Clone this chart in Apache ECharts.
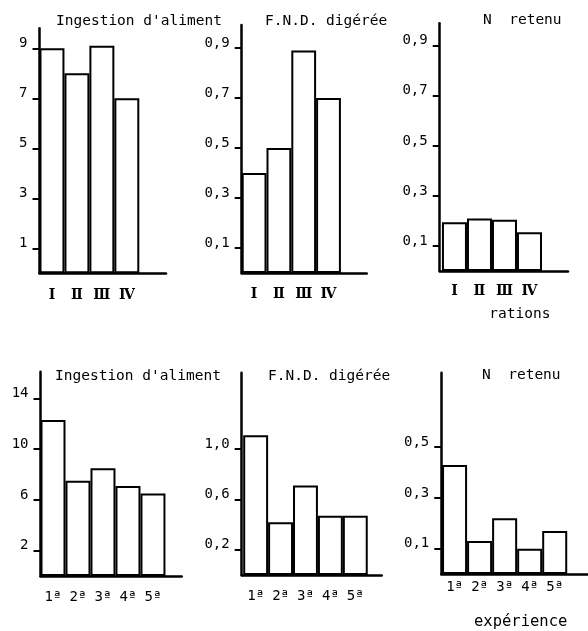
<!DOCTYPE html>
<html>
<head>
<meta charset="utf-8">
<script src="https://cdn.jsdelivr.net/npm/echarts@6/dist/echarts.min.js"></script>
<style>
  html, body { margin: 0; padding: 0; background: #fff; }
  #chart { width: 588px; height: 631px; }
</style>
</head>
<body>
<div id="chart"></div>
<script>
// data
const rations = ['Ⅰ', 'Ⅱ', 'Ⅲ', 'Ⅳ']
const experiences = ['1ª', '2ª', '3ª', '4ª', '5ª']

const ingestionRations = [9.0, 8.0, 9.1, 7.0]
const fndRations = [0.40, 0.50, 0.89, 0.70]
const nRations = [0.195, 0.21, 0.205, 0.155]

const ingestionExp = [12.3, 7.5, 8.5, 7.1, 6.5]
const fndExp = [1.11, 0.42, 0.71, 0.47, 0.47]
const nExp = [0.43, 0.13, 0.22, 0.10, 0.17]

const ticksIngestionRations = [1, 3, 5, 7, 9]
const ticksFndRations = [0.1, 0.3, 0.5, 0.7, 0.9]
const ticksNRations = [0.1, 0.3, 0.5, 0.7, 0.9]
const ticksIngestionExp = [2, 6, 10, 14]
const ticksFndExp = [0.2, 0.6, 1.0]
const ticksNExp = [0.1, 0.3, 0.5]

const titleIngestion = "Ingestion d'aliment"
const titleFnd = 'F.N.D. digérée'
const titleN = 'N  retenu'

const MONO = '"DejaVu Sans Mono", monospace'

// one panel = grid + axes + series
const panels = [
	{ cats: rations, values: ingestionRations, ticks: ticksIngestionRations, dec: 0, title: titleIngestion,
		grid: { left: 39.5, top: 28.3, width: 126.5, height: 245 }, xMin: -0.5, xMax: 4.57, yMax: 9.8,
		titleLeft: 56, titleTop: 14, labelMargin: 15, roman: true },
	{ cats: rations, values: fndRations, ticks: ticksFndRations, dec: 1, title: titleFnd,
		grid: { left: 241.7, top: 25, width: 125, height: 248 }, xMin: -0.5, xMax: 4.54, yMax: 0.992,
		titleLeft: 265, titleTop: 14, labelMargin: 14, roman: true },
	{ cats: rations, values: nRations, ticks: ticksNRations, dec: 1, title: titleN,
		grid: { left: 439.7, top: 23.3, width: 128.3, height: 247.7 }, xMin: -0.59, xMax: 4.54, yMax: 0.99,
		titleLeft: 483, titleTop: 13, labelMargin: 13, roman: true,
		xName: 'rations', xNameGap: 36, xNameShift: [0, 0, 0, 32], xNameSize: 14.5 },
	{ cats: experiences, values: ingestionExp, ticks: ticksIngestionExp, dec: 0, title: titleIngestion,
		grid: { left: 40.5, top: 371.7, width: 141.2, height: 204.3 }, xMin: -0.5, xMax: 5.15, yMax: 16.1,
		titleLeft: 55, titleTop: 369, labelMargin: 14 },
	{ cats: experiences, values: fndExp, ticks: ticksFndExp, dec: 1, title: titleFnd,
		grid: { left: 241.7, top: 372.7, width: 140, height: 202.3 }, xMin: -0.56, xMax: 5.06, yMax: 1.607,
		titleLeft: 268, titleTop: 369, labelMargin: 14 },
	{ cats: experiences, values: nExp, ticks: ticksNExp, dec: 1, title: titleN,
		grid: { left: 441.3, top: 372.7, width: 146.7, height: 201.8 }, xMin: -0.53, xMax: 5.33, yMax: 0.794,
		titleLeft: 482, titleTop: 368, labelMargin: 6,
		xName: 'expérience', xNameGap: 40, xNameShift: [0, 0, 0, 12], xNameSize: 15.5 }
]

function fmt(v, dec) {
	return dec ? Number(v).toFixed(dec).replace('.', ',') : String(v)
}

const chart = echarts.init(document.getElementById('chart'), null, { renderer: 'canvas' })

let option = {
	backgroundColor: '#fff',
	animation: false,
	title: [],
	grid: [],
	xAxis: [],
	yAxis: [],
	series: []
}

panels.forEach((p, i) => {
	option.title.push({
		text: p.title,
		left: p.titleLeft,
		top: p.titleTop,
		padding: 0,
		textStyle: { fontFamily: MONO, fontSize: 14.5, fontWeight: 'normal', color: '#000' }
	})
	option.grid.push(Object.assign({ containLabel: false }, p.grid))
	option.xAxis.push({
		type: 'value',
		gridIndex: i,
		z: 5,
		min: p.xMin,
		max: p.xMax,
		name: p.xName || '',
		nameLocation: 'middle',
		nameGap: p.xNameGap || 0,
		nameTextStyle: {
			fontFamily: MONO, fontSize: p.xNameSize || 14, color: '#000',
			padding: p.xNameShift || 0
		},
		axisLine: { show: true, onZero: false, lineStyle: { color: '#000', width: 2.5 } },
		axisTick: { show: false },
		splitLine: { show: false },
		axisLabel: {
			customValues: p.cats.map((c, k) => k),
			formatter: v => p.cats[Math.round(v)],
			margin: p.labelMargin,
			color: '#000',
			fontSize: p.roman ? 14 : 14,
			fontWeight: p.roman ? 'bold' : 'normal',
			fontFamily: p.roman ? '"DejaVu Serif", serif' : MONO
		}
	})
	option.yAxis.push({
		type: 'value',
		gridIndex: i,
		z: 5,
		min: 0,
		max: p.yMax,
		axisLine: { show: true, onZero: false, lineStyle: { color: '#000', width: 2.5 } },
		axisTick: { show: true, customValues: p.ticks, length: 7, lineStyle: { color: '#000', width: 2 } },
		splitLine: { show: false },
		axisLabel: {
			customValues: p.ticks,
			formatter: v => fmt(v, p.dec),
			margin: 12,
			verticalAlign: 'bottom',
			lineHeight: 10,
			color: '#000',
			fontSize: 14,
			fontFamily: MONO
		}
	})
	option.series.push({
		type: 'bar',
		xAxisIndex: i,
		yAxisIndex: i,
		barWidth: '100%',
		data: p.values.map((v, k) => [k, v]),
		itemStyle: { color: '#fff', borderColor: '#000', borderWidth: 2 }
	})
})

chart.setOption(option)
</script>
</body>
</html>
